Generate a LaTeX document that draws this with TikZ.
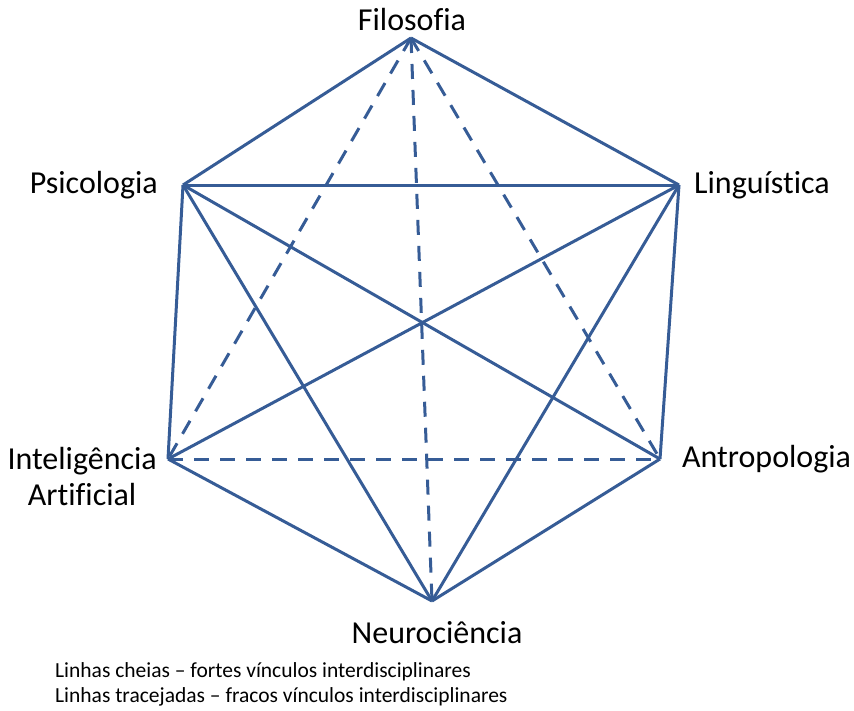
\documentclass[tikz,border=0pt]{standalone}
\usepackage{fontspec}
\setmainfont[Ligatures=NoCommon]{Carlito}
\usetikzlibrary{positioning}

\definecolor{hexblue}{RGB}{54,92,150}

\tikzset{
    forte/.style={draw=hexblue, line width=3pt},
    fraco/.style={draw=hexblue, line width=3pt, dash pattern=on 15pt off 11pt},
    lbl/.style={inner sep=0pt, font=\fontsize{32}{36}\selectfont},
    legenda/.style={inner sep=0pt, anchor=west, font=\fontsize{21.5}{24}\selectfont}
}

\begin{document}
\begin{tikzpicture}[x=1pt,y=-1pt]

\useasboundingbox (0,0) rectangle (854,710);

% vertices of the hexagon

\coordinate (filo) at (411,38);
\coordinate (psico) at (183,185);
\coordinate (ling) at (679,185);
\coordinate (ia) at (168,459);
\coordinate (antro) at (660,459);
\coordinate (neuro) at (432,601);

% labels

\node[lbl, above=7pt of filo, xshift=1pt] (filolbl) {Filosofia};
\node[lbl, left=25pt of psico] (psicolbl) {Psicologia};
\node[lbl, right=15pt of ling] (linglbl) {Linguística};
\node[lbl, align=center, left=11pt of ia, yshift=-17pt] (ialbl) {Inteligência\\Artificial};
\node[lbl, right=22pt of antro] (antrolbl) {Antropologia};
\node[lbl, below=20pt of neuro, xshift=5pt] (neurolbl) {Neurociência};

% solid lines

\draw[forte]
    (filo) edge (psico)
    (filo) edge (ling)
    (psico) edge (ling)
    (psico) edge (ia)
    (psico) edge (antro)
    (psico) edge (neuro)
    (ling) edge (ia)
    (ling) edge (antro)
    (ling) edge (neuro)
    (ia) edge (neuro)
    (antro) edge (neuro);

% dashed lines

\draw[fraco]
    (filo) edge (ia)
    (filo) edge (neuro)
    (filo) edge (antro)
    (ia) edge (antro);

% legend

\node[legenda] (leg1) at (55,672) {Linhas cheias -- fortes vínculos interdisciplinares};
\node[legenda] (leg2) at (55,697) {Linhas tracejadas -- fracos vínculos interdisciplinares};

\end{tikzpicture}
\end{document}
